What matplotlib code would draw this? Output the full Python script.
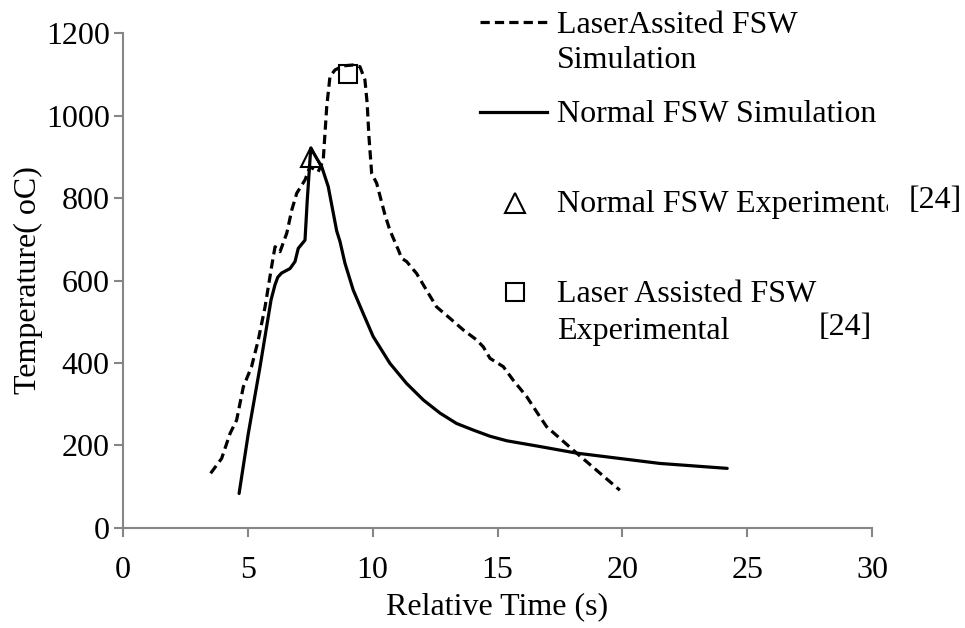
import matplotlib
matplotlib.use("Agg")
import matplotlib.pyplot as plt
from matplotlib.lines import Line2D
from matplotlib.transforms import Bbox, TransformedBbox

plt.rcParams['font.family'] = ['Liberation Serif', 'DejaVu Serif']

# Normal FSW simulation
normal_t = [4.65, 5.02, 5.49, 5.93, 6.09, 6.20, 6.35, 6.69, 6.89, 7.02, 7.29, 7.38, 7.52,
            7.96, 8.22, 8.56, 8.69, 8.89, 9.22, 9.62, 10.02, 10.69, 11.36, 12.03, 12.7,
            13.36, 14.03, 14.7, 15.37, 16.7, 18.17, 21.5, 24.2]
normal_T = [83, 229, 391, 553, 590, 608, 618, 629, 646, 678, 698, 795, 921,
            876, 828, 720, 695, 642, 577, 520, 464, 399, 350, 310, 278,
            253, 237, 222, 211, 197, 181, 156, 144]

# Laser assisted FSW simulation
laser_t = [3.51, 3.95, 4.29, 4.55, 4.82, 5.15, 5.42, 5.69, 5.95, 6.09, 6.29, 6.56, 6.76,
           6.96, 7.29, 7.49, 7.82, 8.02, 8.16, 8.29, 8.49, 8.82, 9.2, 9.49, 9.69, 9.78,
           9.85, 9.96, 10.16, 10.49, 10.69, 11.03, 11.16, 11.36, 11.76, 12.23, 12.56, 13.1,
           13.63, 14.16, 14.43, 14.7, 15.23, 15.63, 16.17, 16.7, 16.97, 18.17, 19.9]
laser_T = [132, 168, 229, 261, 342, 391, 456, 536, 633, 682, 670, 715, 771,
           812, 844, 876, 864, 892, 1022, 1095, 1111, 1121, 1123, 1119, 1087, 1030,
           950, 860, 836, 760, 722, 674, 654, 646, 617, 569, 536, 508,
           480, 456, 439, 411, 391, 358, 318, 269, 245, 181, 91]

# Experimental points [24]
exp_normal_t = [7.55]
exp_normal_T = [900]
exp_laser_t = [9.03]
exp_laser_T = [1100]

xticks = [0, 5, 10, 15, 20, 25, 30]
yticks = [0, 200, 400, 600, 800, 1000, 1200]

W, H = 965, 628
fig = plt.figure(figsize=(W / 100, H / 100), dpi=100)
ax = fig.add_axes([123 / W, 1 - 527.7 / H, (872 - 123) / W, (527.7 - 33.3) / H])

FS = 23
LW = 2.3
dash = (0, (2.9, 1.6))
axis_col = '#868686'

ax.plot(laser_t, laser_T, color='black', lw=LW, linestyle=dash, dash_capstyle='butt')
ax.plot(normal_t, normal_T, color='black', lw=LW, solid_capstyle='round')
ax.plot(exp_normal_t, exp_normal_T, linestyle='none', marker='^', ms=14, mfc='none',
        mec='black', mew=1.5)
ax.plot(exp_laser_t, exp_laser_T, linestyle='none', marker='s', ms=13.5, mfc='none',
        mec='black', mew=1.5)

ax.set_xlim(0, 30)
ax.set_ylim(0, 1200)
ax.set_xticks(xticks)
ax.set_yticks(yticks)
ax.set_xticklabels([str(v) for v in xticks])
ax.set_yticklabels([str(v) for v in yticks])
for s in ['top', 'right']:
    ax.spines[s].set_visible(False)
for s in ['left', 'bottom']:
    ax.spines[s].set_color(axis_col)
    ax.spines[s].set_linewidth(1.5)
ax.tick_params(axis='both', direction='out', length=6.5, width=1.5, color=axis_col,
               labelsize=FS, labelcolor='black')
ax.tick_params(axis='x', pad=14)
ax.tick_params(axis='y', pad=3)
ax.set_xlabel('Relative Time (s)', fontsize=FS, labelpad=5)
ax.set_ylabel('Temperature( oC)', fontsize=FS, labelpad=2)

# ---- manual legend (figure pixel coordinates, y from top) ----
def fx(px):
    return px / W

def fy(py):
    return 1 - py / H

def ftext(px, py, s, **kw):
    return fig.text(fx(px), fy(py), s, fontsize=FS, ha='left', va='baseline', **kw)

fig.add_artist(Line2D([fx(480), fx(550)], [fy(22), fy(22)], color='black', lw=LW,
                      linestyle=dash, dash_capstyle='butt'))
ftext(557, 33, 'LaserAssited FSW')
ftext(557, 68.5, 'Simulation')

fig.add_artist(Line2D([fx(480), fx(547)], [fy(112), fy(112)], color='black', lw=LW))
ftext(557, 122, 'Normal FSW Simulation')

fig.add_artist(Line2D([fx(515)], [fy(203)], linestyle='none', marker='^', ms=14,
                      mfc='none', mec='black', mew=1.5))
t3 = ftext(557, 212, 'Normal FSW Experimental')
t3.set_clip_box(TransformedBbox(Bbox([[0, 0], [888 / W, 1]]), fig.transFigure))
t3.set_clip_on(True)
ftext(909, 208, '[24]')

fig.add_artist(Line2D([fx(515)], [fy(292)], linestyle='none', marker='s', ms=13.5,
                      mfc='none', mec='black', mew=1.5))
ftext(557, 302, 'Laser Assisted FSW')
ftext(557, 338.5, 'Experimental')
ftext(819, 335, '[24]')

fig.savefig('out.png', dpi=100)
